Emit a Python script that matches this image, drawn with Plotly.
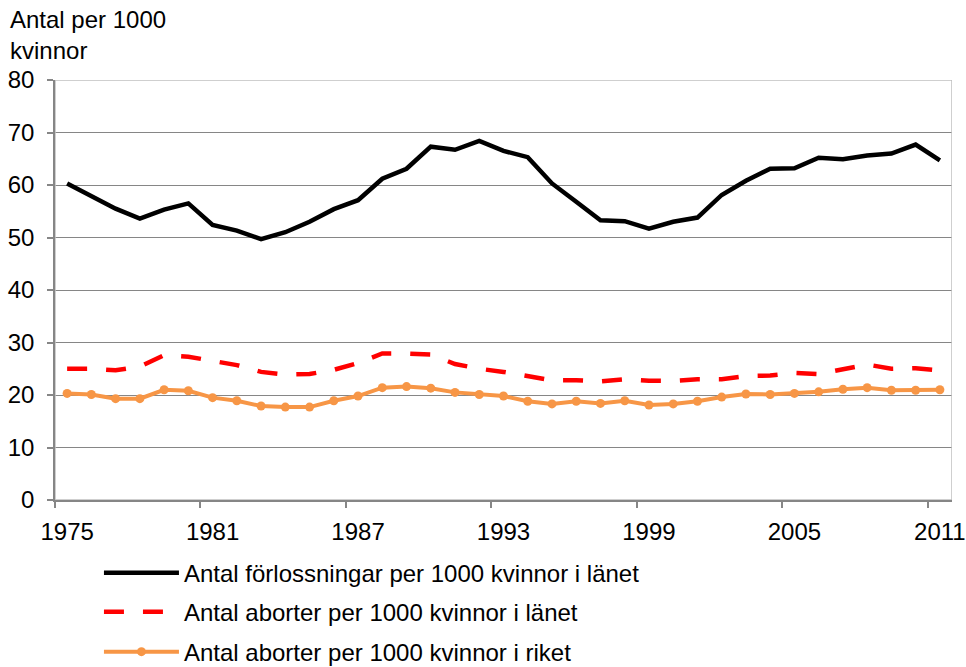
import plotly.graph_objects as go

# ---- data ----
years = list(range(1975, 2012))

forlossningar_lanet = [60.3, 57.9, 55.5, 53.6, 55.3, 56.5, 52.4, 51.3, 49.7, 51.0,
                       53.0, 55.4, 57.1, 61.2, 63.1, 67.3, 66.7, 68.4, 66.5, 65.3,
                       60.3, 56.8, 53.3, 53.1, 51.7, 53.0, 53.8, 58.1, 60.8, 63.1,
                       63.2, 65.2, 64.9, 65.6, 66.0, 67.7, 64.7]

aborter_lanet = [25.0, 25.0, 24.7, 25.4, 27.6, 27.3, 26.5, 25.7, 24.4, 23.9,
                 24.0, 24.8, 26.1, 27.9, 27.9, 27.7, 25.9, 25.0, 24.4, 23.5,
                 22.8, 22.8, 22.6, 23.0, 22.7, 22.7, 23.0, 23.0, 23.6, 23.7,
                 24.2, 24.0, 24.9, 25.8, 25.0, 25.1, 24.7]

aborter_riket = [20.3, 20.1, 19.3, 19.3, 21.0, 20.8, 19.5, 18.9, 17.9, 17.7,
                 17.7, 18.9, 19.8, 21.4, 21.6, 21.3, 20.5, 20.1, 19.8, 18.8,
                 18.3, 18.8, 18.4, 18.9, 18.1, 18.3, 18.8, 19.6, 20.2, 20.1,
                 20.3, 20.6, 21.1, 21.4, 20.9, 20.9, 21.0]

tick_years = [1975, 1981, 1987, 1993, 1999, 2005, 2011]
tick_labels = [str(y) for y in tick_years]

series_names = ["Antal förlossningar per 1000 kvinnor i länet",
                "Antal aborter per 1000 kvinnor i länet",
                "Antal aborter per 1000 kvinnor i riket"]

y_title = "Antal per 1000<br>kvinnor"

# ---- styling ----
FONT = "Liberation Sans, Arial, sans-serif"
FS = 24
AXIS_GRAY = "#868686"
BORDER_GRAY = "#C0C0C0"

fig = go.Figure()
fig.add_trace(go.Scatter(
    x=years, y=forlossningar_lanet, mode="lines", name=series_names[0],
    line=dict(color="#000000", width=4.5), legend="legend"))
fig.add_trace(go.Scatter(
    x=years, y=aborter_lanet, mode="lines", name=series_names[1],
    line=dict(color="#FF0000", width=4.5, dash="20px,19px"), legend="legend2"))
fig.add_trace(go.Scatter(
    x=years, y=aborter_riket, mode="lines+markers", name=series_names[2],
    line=dict(color="#F79646", width=4), marker=dict(size=9, color="#F79646"),
    legend="legend3"))

legend_common = dict(font=dict(family=FONT, size=FS, color="#000000"),
                     bgcolor="rgba(0,0,0,0)", itemwidth=75,
                     xanchor="left", yanchor="middle", x=0.049)

fig.update_layout(
    width=966, height=667,
    margin=dict(l=55, r=14, t=80, b=167, autoexpand=False),
    paper_bgcolor="white", plot_bgcolor="white",
    font=dict(family=FONT, size=FS, color="#000000"),
    showlegend=True,
    legend=dict(**legend_common, y=-0.174),
    legend2=dict(**legend_common, y=-0.267),
    legend3=dict(**legend_common, y=-0.362),
    xaxis=dict(
        range=[1974.5, 2011.5], tickmode="array", tickvals=tick_years, ticktext=tick_labels,
        ticks="outside", ticklen=9, tickcolor="rgba(0,0,0,0)",
        showgrid=False, zeroline=False, automargin=False,
        showline=True, linecolor=AXIS_GRAY, linewidth=1.5,
        tickfont=dict(family=FONT, size=FS, color="#000000"),
        minor=dict(tick0=1974.5, dtick=6, ticks="outside", ticklen=6,
                   tickcolor=AXIS_GRAY, tickwidth=1.5, showgrid=False),
    ),
    yaxis=dict(
        range=[0, 80], dtick=10, tick0=0, automargin=False,
        ticks="outside", ticklen=6, tickcolor=AXIS_GRAY, tickwidth=1.5,
        showgrid=True, gridcolor=AXIS_GRAY, gridwidth=1.4,
        zeroline=False, showline=True, linecolor=AXIS_GRAY, linewidth=1.5,
        tickfont=dict(family=FONT, size=FS, color="#000000"),
        ticklabelstandoff=8,
    ),
    shapes=[dict(type="rect", xref="x", yref="y", x0=1974.5, x1=2011.5, y0=0, y1=80,
                 line=dict(color=BORDER_GRAY, width=1.5), layer="between")],
    annotations=[
        dict(text=y_title, xref="paper", yref="paper", x=-0.052, y=1.106,
             xanchor="left", yanchor="middle", align="left", showarrow=False,
             font=dict(family=FONT, size=FS, color="#000000")),
    ],
)

fig.write_html("out.html", config={"displayModeBar": False},
               post_script="document.body.style.margin='0';")
